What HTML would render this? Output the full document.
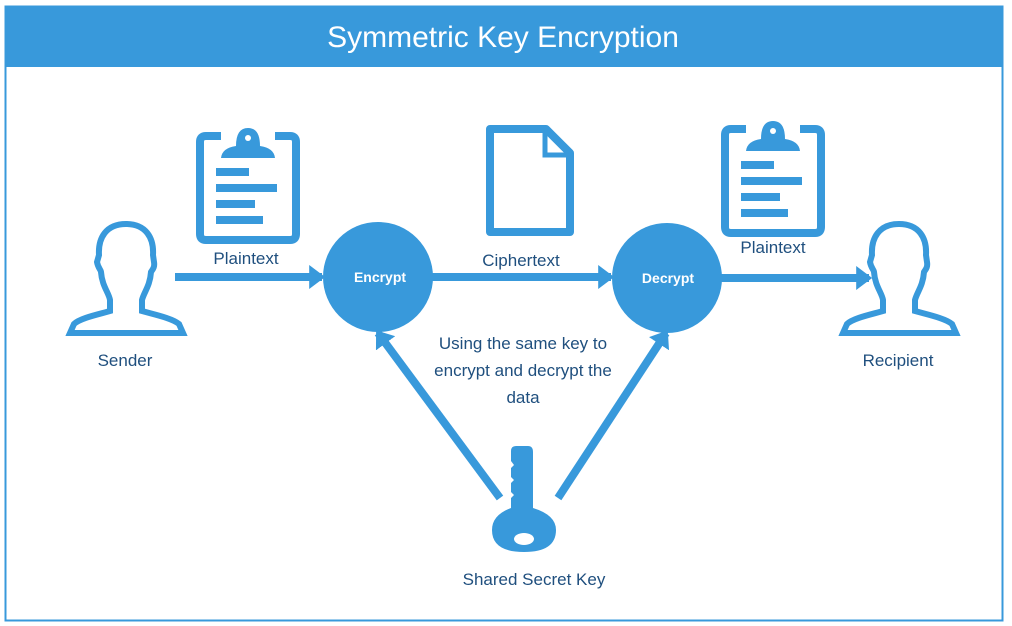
<!DOCTYPE html>
<html><head><style>
body{margin:0;background:#fff;}
svg{display:block;font-family:"Liberation Sans",sans-serif;}
</style></head><body>
<svg width="1012" height="626" viewBox="0 0 1012 626" xmlns="http://www.w3.org/2000/svg">
<defs><marker id="ah" markerWidth="2" markerHeight="3" refX="1.6" refY="1.5" orient="auto" markerUnits="strokeWidth"><path d="M0,0 L2,1.5 L0,3 Z" fill="#3899db"/></marker></defs>
<rect x="5.5" y="6.5" width="997" height="614" fill="#fff" stroke="#3899db" stroke-width="2"/>
<rect x="6" y="7" width="996" height="60" fill="#3899db"/>
<text x="503" y="47" font-size="30" fill="#fff" text-anchor="middle">Symmetric Key Encryption</text>
<g fill="#3899db" stroke="#3899db">
<line x1="175" y1="277" x2="322" y2="277" stroke-width="8" marker-end="url(#ah)"/>
<line x1="432" y1="277" x2="611" y2="277" stroke-width="8" marker-end="url(#ah)"/>
<line x1="720" y1="278" x2="869" y2="278" stroke-width="8" marker-end="url(#ah)"/>
<line x1="500" y1="498" x2="378" y2="333" stroke-width="8" marker-end="url(#ah)"/>
<line x1="558" y1="498" x2="666" y2="333" stroke-width="8" marker-end="url(#ah)"/>
<circle cx="378" cy="277" r="55" stroke="none"/>
<circle cx="667" cy="278" r="55" stroke="none"/>
</g>
<g id="cb" fill="none" stroke="#3899db">
<path d="M221,136 H206 Q200,136 200,142 V234 Q200,240 206,240 H290 Q296,240 296,234 V142 Q296,136 290,136 H275" stroke-width="8"/>
<path d="M221,158 Q222,148 236,146 Q236,128 248,128 Q260,128 260,146 Q274,148 275,158 Z" fill="#3899db" stroke="none"/>
<circle cx="248" cy="138" r="3" fill="#fff" stroke="none"/>
<g fill="#3899db" stroke="none"><rect x="216" y="168" width="33" height="8"/><rect x="216" y="184" width="61" height="8"/><rect x="216" y="200" width="39" height="8"/><rect x="216" y="216" width="47" height="8"/></g>
</g>
<use href="#cb" transform="translate(525,-7)"/>
<path d="M490,129 H546 L570,153 V232 H490 Z" fill="none" stroke="#3899db" stroke-width="8" stroke-linejoin="round"/>
<path d="M545,133 V155 H566" fill="none" stroke="#3899db" stroke-width="5"/>
<g id="pp" fill="none" stroke="#3899db" stroke-width="6">
<path d="M126,224 C106,224 98,238 99,255 L97,262 C98,268 101,270 101,272 C102,286 109,293 110,300 V311 C100,314 80,318 74,324 L70,333 H183 L179,324 C172,318 152,314 142,311 V300 C144,292 150,286 151,272 C152,270 155,268 154,262 L153,255 C154,238 146,224 126,224 Z"/>
</g>
<use href="#pp" transform="translate(773,0)"/>
<path d="M516,446 H528 Q533,446 533,452 V508 Q556,515 556,530 Q556,552 524,552 Q492,552 492,530 Q492,515 511,508 V498 L514,495 L511,492 V483 L514,480 L511,477 V468 L514,465 L511,461 V451 Q511,446 516,446 Z" fill="#3899db"/>
<ellipse cx="524" cy="539" rx="10" ry="6" fill="#fff"/>
<g font-size="17" fill="#1f4f7e" text-anchor="middle">
<text x="246" y="264">Plaintext</text>
<text x="521" y="266">Ciphertext</text>
<text x="773" y="253">Plaintext</text>
<text x="125" y="366">Sender</text>
<text x="898" y="366">Recipient</text>
<text x="523" y="349">Using the same key to</text>
<text x="523" y="376">encrypt and decrypt the</text>
<text x="523" y="403">data</text>
<text x="534" y="585">Shared Secret Key</text>
</g>
<g font-size="14" fill="#fff" text-anchor="middle" font-weight="bold">
<text x="380" y="282">Encrypt</text>
<text x="668" y="283">Decrypt</text>
</g>
</svg>
</body></html>
